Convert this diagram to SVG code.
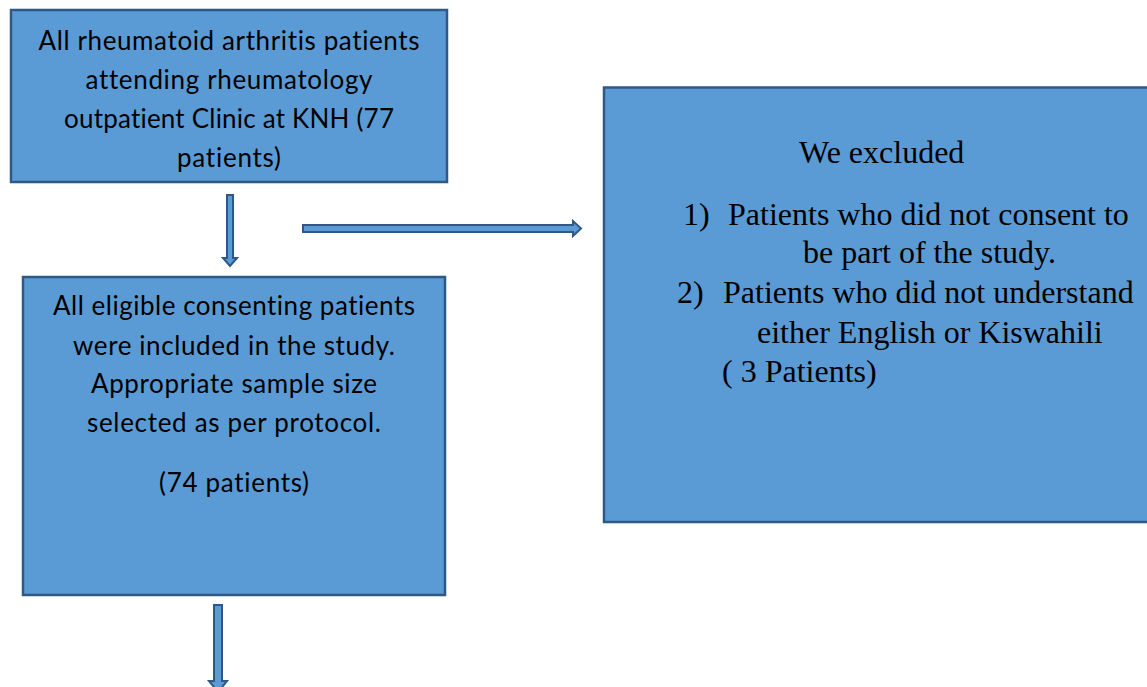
<svg xmlns="http://www.w3.org/2000/svg" width="1147" height="687" viewBox="0 0 1147 687">
<style>
.box{fill:#5b9bd5;stroke:#2e5987;stroke-width:2.5}
.arr{fill:#5b9bd5;stroke:#2e5987;stroke-width:2;stroke-linejoin:miter}
.cal{font-family:Lato,"Open Sans","Liberation Sans",sans-serif;font-size:26px;fill:#000;text-anchor:middle;font-variant-ligatures:none}
.tnr{font-family:"Liberation Serif","Times New Roman",serif;font-size:32px;fill:#000}
</style>
<rect width="1147" height="687" fill="#fff"/>
<g id="connectors">
<polygon class="arr" points="227,195 233,195 233,258 237,258 230,266 223,258 227,258"/>
<polygon class="arr" points="303,225 573,225 573,221 581,228.5 573,236 573,232 303,232"/>
<polygon class="arr" points="214,605 222,605 222,681 227,681 218,692 209,681 214,681"/>
</g>
<g id="node-all-patients">
<rect class="box" x="11" y="10" width="436" height="172"/>
<text class="cal" x="229" y="50" textLength="381">All rheumatoid arthritis patients</text>
<text class="cal" x="229" y="89" textLength="287">attending rheumatology</text>
<text class="cal" x="229" y="128" textLength="330">outpatient Clinic at KNH (77</text>
<text class="cal" x="229" y="167" textLength="104">patients)</text>
</g>
<g id="node-included">
<rect class="box" x="23" y="277" width="422" height="318"/>
<text class="cal" x="234" y="315" textLength="362">All eligible consenting patients</text>
<text class="cal" x="234" y="355" textLength="322">were included in the study.</text>
<text class="cal" x="234" y="393" textLength="286">Appropriate sample size</text>
<text class="cal" x="234" y="432" textLength="294">selected as per protocol.</text>
<text class="cal" x="234" y="492" textLength="150">(74 patients)</text>
</g>
<g id="node-excluded">
<rect class="box" x="604" y="87.5" width="560" height="434.5"/>
<text class="tnr" x="799" y="163">We excluded</text>
<text class="tnr" x="683" y="225">1)</text>
<text class="tnr" x="728" y="225">Patients who did not consent to</text>
<text class="tnr" x="803" y="263">be part of the study.</text>
<text class="tnr" x="677" y="303">2)</text>
<text class="tnr" x="723" y="303">Patients who did not understand</text>
<text class="tnr" x="757" y="343">either English or Kiswahili</text>
<text class="tnr" x="722" y="382">( 3 Patients)</text>
</g>
</svg>
